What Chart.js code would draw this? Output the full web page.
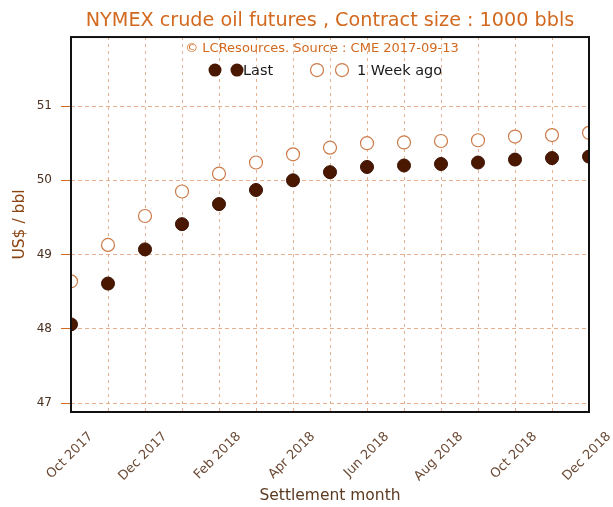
<!DOCTYPE html>
<html>
<head>
<meta charset="utf-8">
<script src="https://cdn.jsdelivr.net/npm/chart.js@4/dist/chart.umd.min.js"></script>
<style>
  html, body { margin: 0; padding: 0; background: #ffffff; }
  canvas { display: block; }
</style>
</head>
<body>
<canvas id="futures" width="613" height="507"></canvas>
<script>
// settlement months, one point each
const months = [
  'Oct 2017', 'Nov 2017', 'Dec 2017', 'Jan 2018', 'Feb 2018', 'Mar 2018', 'Apr 2018',
  'May 2018', 'Jun 2018', 'Jul 2018', 'Aug 2018', 'Sep 2018', 'Oct 2018', 'Nov 2018', 'Dec 2018'
];

// settlement prices, US$ / bbl
const lastPrices = [48.06, 48.61, 49.07, 49.41, 49.68, 49.87, 50.00, 50.11, 50.18, 50.20, 50.22, 50.24, 50.28, 50.30, 50.32];
const weekAgoPrices = [48.64, 49.13, 49.52, 49.85, 50.09, 50.24, 50.35, 50.44, 50.50, 50.51, 50.53, 50.54, 50.59, 50.61, 50.64];

const yTicks = [47, 48, 49, 50, 51];

const titleText = 'NYMEX crude oil futures , Contract size : 1000 bbls';
const sourceText = '\u00A9 LCResources. Source : CME 2017-09-13';

const FONT = "'DejaVu Sans', sans-serif";
const ORANGE = '#d2691e';
const DARK = '#4a1800';
const OPEN_EDGE = '#cc7a48';
const GRID = '#e6b08e';

// frame round the plot + source line + legend with two markers per entry
const frameAndLegend = {
  id: 'frameAndLegend',
  afterDatasetsDraw(chart) {
    const { ctx, chartArea } = chart;
    const cx = (chartArea.left + chartArea.right) / 2;

    ctx.save();
    ctx.strokeStyle = '#111111';
    ctx.lineWidth = 2;
    ctx.strokeRect(chartArea.left, chartArea.top, chartArea.right - chartArea.left, chartArea.bottom - chartArea.top);

    ctx.fillStyle = ORANGE;
    ctx.font = '13px ' + FONT;
    ctx.textAlign = 'center';
    ctx.textBaseline = 'middle';
    ctx.fillText(sourceText, cx - 8, chartArea.top + 12);

    const r = 6.5;
    const y = chartArea.top + 33;
    const dot = (px, filled) => {
      ctx.beginPath();
      ctx.arc(px, y, r, 0, Math.PI * 2);
      if (filled) {
        ctx.fillStyle = DARK;
        ctx.fill();
      } else {
        ctx.fillStyle = '#ffffff';
        ctx.fill();
        ctx.lineWidth = 1.2;
        ctx.strokeStyle = OPEN_EDGE;
        ctx.stroke();
      }
    };

    dot(cx - 115, true);
    dot(cx - 93, true);
    dot(cx - 13, false);
    dot(cx + 12, false);
    ctx.font = '14.5px ' + FONT;
    ctx.fillStyle = '#1a1a1a';
    ctx.textAlign = 'left';
    ctx.fillText('Last', cx - 87, y + 1);
    ctx.fillText('1 Week ago', cx + 27, y + 1);
    ctx.restore();
  }
};

const data = {
  labels: months,
  datasets: [
    {
      label: '1 Week ago',
      data: weekAgoPrices,
      showLine: false,
      pointRadius: 6.5,
      pointBackgroundColor: '#ffffff',
      pointBorderColor: OPEN_EDGE,
      pointBorderWidth: 1.2,
      clip: 0,
    },
    {
      label: 'Last',
      data: lastPrices,
      showLine: false,
      pointRadius: 6.5,
      pointBackgroundColor: DARK,
      pointBorderColor: '#3a1000',
      pointBorderWidth: 1,
      clip: 0,
    },
  ],
};

const options = {
  responsive: false,
  animation: false,
  layout: { padding: { left: 0, right: 24, top: 0, bottom: 0 } },
  plugins: {
    legend: { display: false },
    tooltip: { enabled: false },
    title: {
      display: true,
      fullSize: false,
      text: titleText,
      color: ORANGE,
      font: { family: FONT, size: 19.2, weight: 'normal' },
      padding: { top: 9, bottom: 5 },
    },
  },
  scales: {
    x: {
      offset: false,
      grid: {
        color: GRID,
        lineWidth: 1,
        drawTicks: false,
      },
      border: { display: false, dash: [3, 4] },
      ticks: {
        autoSkip: false,
        maxRotation: 45,
        minRotation: 45,
        padding: 17,
        labelOffset: 20,
        color: '#6b4a35',
        font: { family: FONT, size: 13 },
        callback: (value, index) => (index % 2 === 0 ? months[index] : ''),
      },
      title: {
        display: true,
        text: 'Settlement month',
        color: '#5c3a21',
        font: { family: FONT, size: 15.5 },
        padding: { top: 0, bottom: 2 },
      },
      afterFit: (scale) => {
        scale.height = 95;
        scale.paddingLeft = 0;
        scale.paddingRight = 0;
      },
    },
    y: {
      min: 46.88,
      max: 51.93,
      afterBuildTicks: (scale) => { scale.ticks = yTicks.map(v => ({ value: v })); },
      grid: {
        color: GRID,
        lineWidth: 1,
        tickLength: 10,
        tickColor: ORANGE,
      },
      border: { display: false, dash: [4, 3] },
      ticks: {
        padding: 9,
        color: '#4a3020',
        font: { family: FONT, size: 12 },
      },
      title: {
        display: true,
        text: 'US$ / bbl',
        color: '#8b4513',
        font: { family: FONT, size: 15.5 },
        padding: { top: 11, bottom: 0 },
      },
      afterFit: (scale) => {
        scale.width = 71;
        scale.paddingTop = 0;
        scale.paddingBottom = 0;
      },
    },
  },
};

new Chart(document.getElementById('futures').getContext('2d'), {
  type: 'line',
  data: data,
  options: options,
  plugins: [frameAndLegend],
});
</script>
</body>
</html>
